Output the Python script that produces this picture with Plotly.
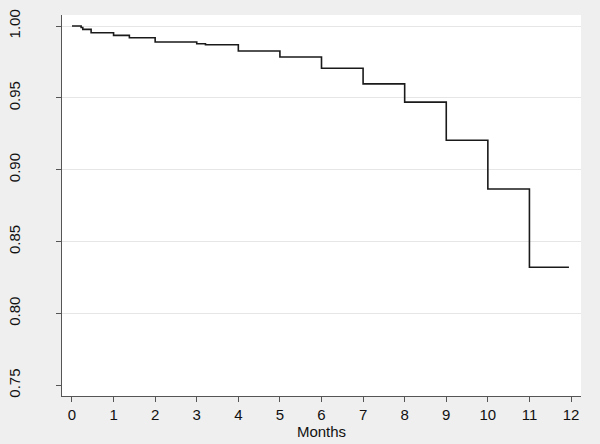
import plotly.graph_objects as go

# Kaplan-Meier style survival step data (months, survival probability)
months = [0, 0.22, 0.26, 0.46, 1.0, 1.38, 2.0, 3.0, 3.21, 4.0, 5.0, 6.0, 7.0, 8.0, 9.0, 10.0, 11.0, 11.95]
survival = [1.000, 0.999, 0.9977, 0.9953, 0.9935, 0.9919, 0.9889, 0.9877, 0.9870, 0.9826,
            0.9785, 0.9706, 0.9598, 0.9471, 0.9205, 0.8866, 0.8322, 0.8322]

x_ticks = list(range(0, 13))
y_ticks = [0.75, 0.80, 0.85, 0.90, 0.95, 1.00]
y_grid = [0.80, 0.85, 0.90, 0.95, 1.00]
x_title = "Months"

xr = [-0.24, 12.24]
yr = [0.7426, 1.0077]

fig = go.Figure()
fig.add_trace(go.Scatter(
    x=months, y=survival, mode="lines", line=dict(shape="hv", color="#1a1a1a", width=1.6),
    showlegend=False, hoverinfo="skip"))
# invisible trace to anchor the gridline axis
fig.add_trace(go.Scatter(x=[None], y=[None], yaxis="y2", showlegend=False))

font = dict(family="Liberation Sans, Arial, sans-serif", size=15, color="#111111")

fig.update_layout(
    width=600, height=444,
    margin=dict(l=62, r=19, t=15, b=48),
    paper_bgcolor="#efefef",
    plot_bgcolor="#ffffff",
    font=font,
    xaxis=dict(
        range=xr, tickvals=x_ticks, ticktext=[str(v) for v in x_ticks], automargin=False,
        showgrid=False, zeroline=False, showline=True, linecolor="#555555", linewidth=1.2,
        ticks="outside", ticklen=5, tickcolor="#555555", tickwidth=1,
        title=dict(text=x_title, standoff=0, font=font), tickfont=font),
    yaxis=dict(
        range=yr, tickvals=y_ticks, ticktext=["%.2f" % v for v in y_ticks], automargin=False,
        showgrid=False, zeroline=False, showline=True, linecolor="#555555", linewidth=1.2,
        ticks="outside", ticklen=5, tickcolor="#555555", tickwidth=1,
        tickangle=-90, ticklabelstandoff=30, tickfont=font),
    yaxis2=dict(
        range=yr, tickvals=y_grid, overlaying="y", showgrid=True, gridcolor="#e6e6e6",
        gridwidth=1, showticklabels=False, ticks="", zeroline=False, showline=False,
        automargin=False, layer="below traces"),
)

fig.write_html("out.html", config={"displayModeBar": False},
               post_script="document.body.style.margin='0';document.body.style.overflow='hidden';")
